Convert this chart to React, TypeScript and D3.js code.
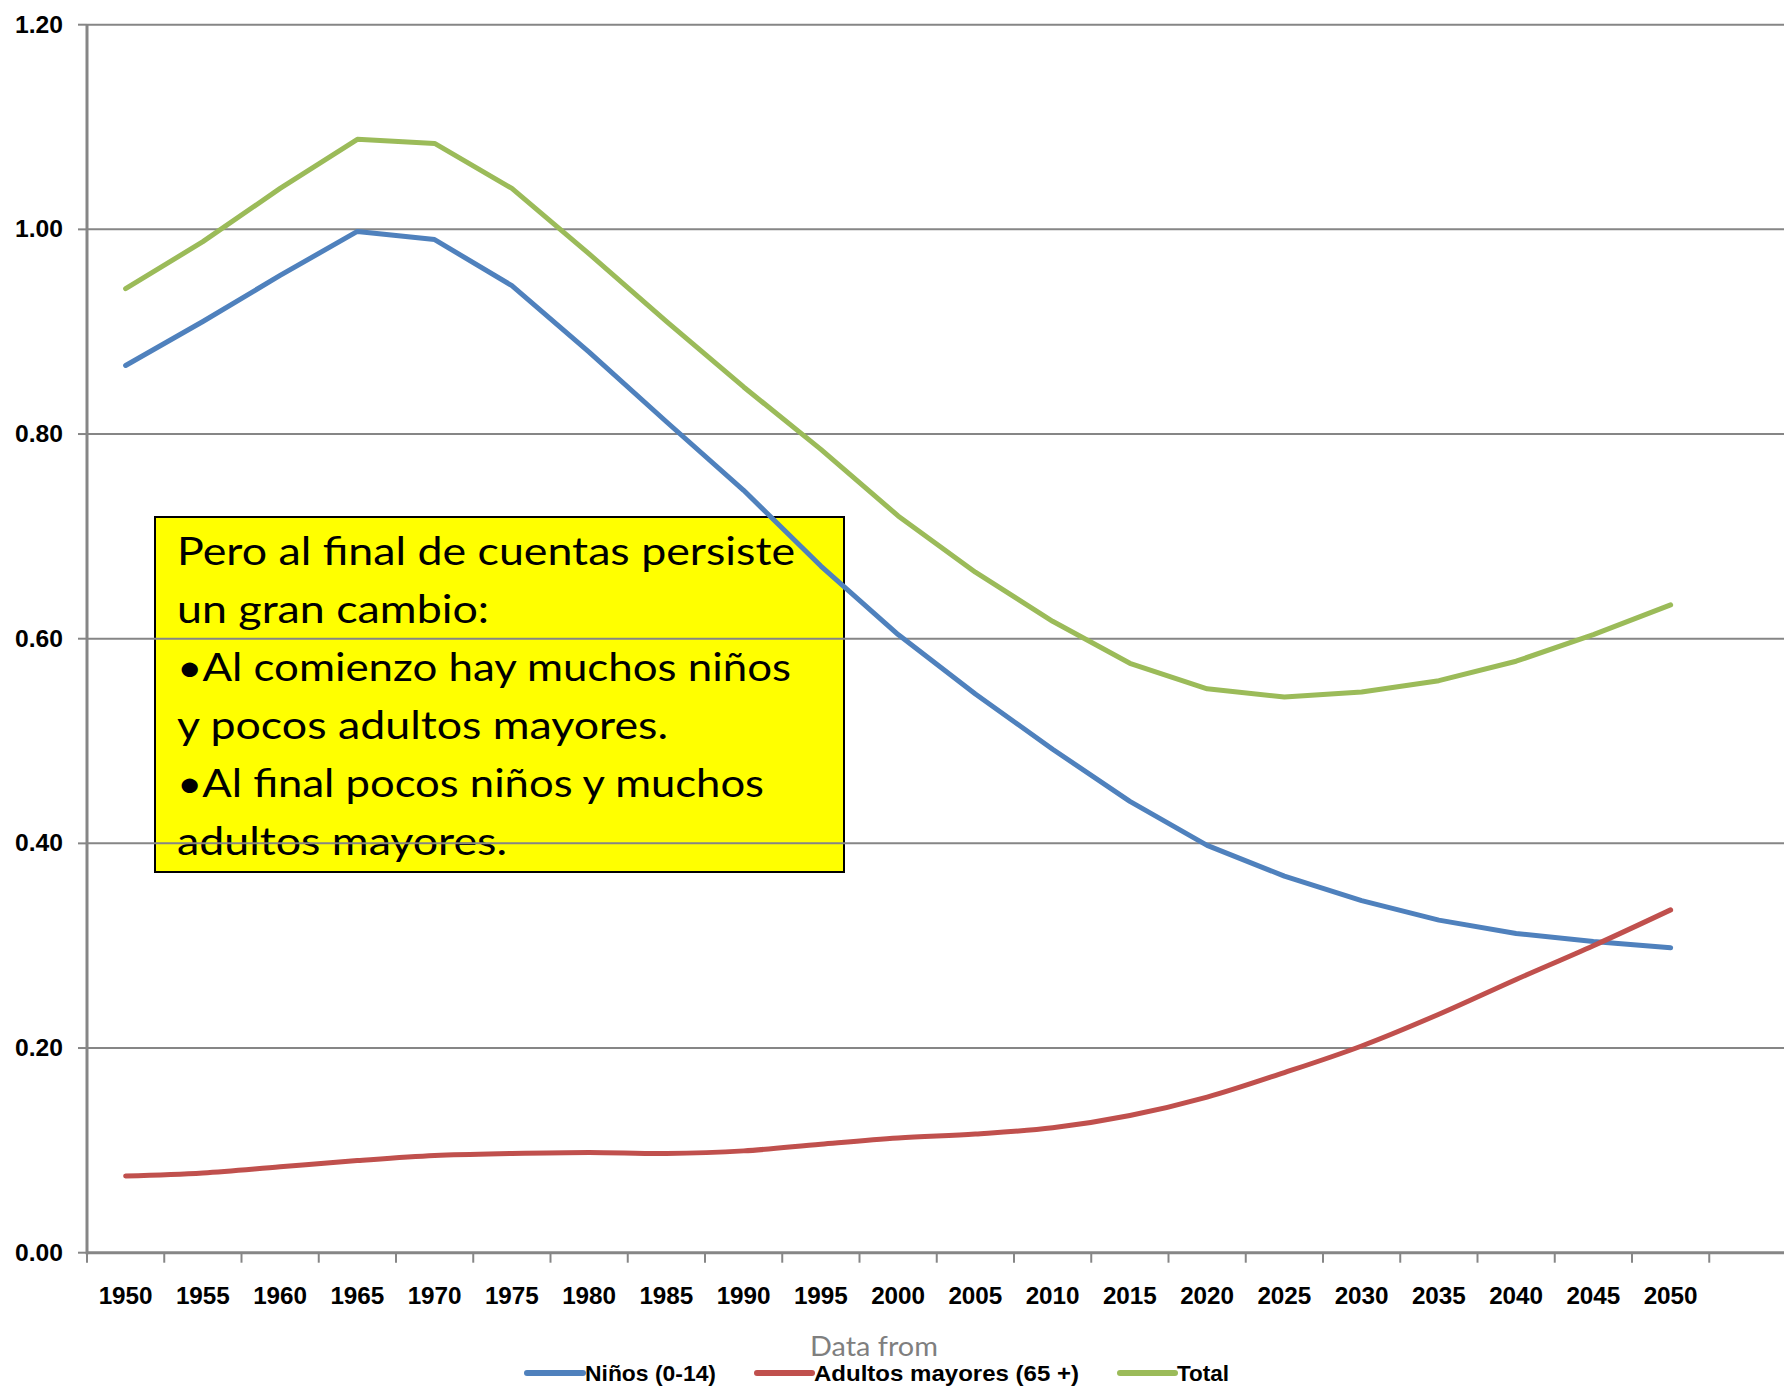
import React from "react";
import * as d3 from "d3";

const years = [1950, 1955, 1960, 1965, 1970, 1975, 1980, 1985, 1990, 1995, 2000, 2005, 2010, 2015, 2020, 2025, 2030, 2035, 2040, 2045, 2050];
const ninos = [0.867, 0.910, 0.955, 0.998, 0.990, 0.945, 0.880, 0.812, 0.745, 0.671, 0.604, 0.546, 0.492, 0.441, 0.398, 0.368, 0.344, 0.325, 0.312, 0.304, 0.298];
const adultos = [0.075, 0.078, 0.084, 0.090, 0.095, 0.097, 0.098, 0.097, 0.0995, 0.106, 0.112, 0.116, 0.122, 0.134, 0.152, 0.176, 0.202, 0.233, 0.267, 0.300, 0.335];
const total = [0.942, 0.988, 1.040, 1.088, 1.084, 1.040, 0.976, 0.910, 0.846, 0.785, 0.720, 0.665, 0.617, 0.576, 0.551, 0.543, 0.548, 0.559, 0.578, 0.604, 0.633];
const yTicks = [0, 0.2, 0.4, 0.6, 0.8, 1.0, 1.2];
const seriesNames = ["Niños (0-14)", "Adultos  mayores (65 +)", "Total"];
const noteLines = [
  "Pero al final de cuentas persiste",
  "un gran cambio:",
  "•Al comienzo hay muchos niños",
  "y pocos adultos mayores.",
  "•Al final pocos niños y muchos",
  "adultos mayores.",
];
const noteWidths = [618, 312, 614, 491, 587, 330];
const sourceText = "Data from";

const W = 1784;
const H = 1387;
const left = 87;
const step = 77.25;
const yTop = 24.7;
const yBottom = 1252.7;
const gridColor = "#868686";

const colors = ["#4F81BD", "#C0504D", "#9BBB59"];

export default function App() {
  const x = d3
    .scaleBand<number>()
    .domain(years)
    .range([left, left + step * years.length])
    .padding(0);
  const y = d3.scaleLinear().domain([0, 1.2]).range([yBottom, yTop]);
  const cx = (yr: number) => (x(yr) as number) + x.bandwidth() / 2;

  const straight = d3
    .line<number>()
    .x((_, i) => cx(years[i]))
    .y((v) => y(v));
  const smooth = d3
    .line<number>()
    .x((_, i) => cx(years[i]))
    .y((v) => y(v))
    .curve(d3.curveCatmullRom.alpha(0.5));

  const boundaries = years.map((yr) => x(yr) as number).concat([(x(years[years.length - 1]) as number) + x.bandwidth()]);

  const legendItems = [
    { x1: 527, x2: 583, tx: 585, tw: 131 },
    { x1: 757, x2: 812, tx: 814, tw: 265 },
    { x1: 1120, x2: 1175, tx: 1177, tw: 52 },
  ];

  return (
    <svg
      width={W}
      height={H}
      style={{ position: "absolute", left: 0, top: 0, background: "#fff" }}
    >
      <rect x={0} y={0} width={W} height={H} fill="#fff" />
      {/* annotation box (under gridlines and lines) */}
      <rect x={155} y={517} width={689} height={355} fill="#FFFF00" stroke="#000" strokeWidth={2} />
      {noteLines.map((t, i) => (
        <text
          key={i}
          x={177}
          y={565 + i * 58}
          fontFamily="Lato, 'Open Sans', sans-serif"
          fontSize={38}
          fill="#000"
          textLength={noteWidths[i]}
          lengthAdjust="spacingAndGlyphs"
        >
          {t}
        </text>
      ))}

      {/* gridlines */}
      {yTicks.filter((t) => t > 0).map((t) => (
        <line key={t} x1={left} x2={W} y1={y(t)} y2={y(t)} stroke={gridColor} strokeWidth={2} />
      ))}

      {/* y axis */}
      <line x1={left} x2={left} y1={yTop} y2={yBottom + 1.5} stroke={gridColor} strokeWidth={3} />
      {yTicks.map((t) => (
        <g key={t}>
          <line x1={78} x2={left} y1={y(t)} y2={y(t)} stroke={gridColor} strokeWidth={2} />
          <text
            x={63}
            y={y(t) + 8}
            textAnchor="end"
            fontFamily="'Liberation Sans', Arial, sans-serif"
            fontWeight="bold"
            fontSize={23}
            fill="#000"
            textLength={48}
            lengthAdjust="spacingAndGlyphs"
          >
            {t.toFixed(2)}
          </text>
        </g>
      ))}

      {/* x axis */}
      <line x1={left} x2={W} y1={yBottom} y2={yBottom} stroke={gridColor} strokeWidth={3} />
      {boundaries.map((b, i) => (
        <line key={i} x1={b} x2={b} y1={yBottom} y2={yBottom + 10} stroke={gridColor} strokeWidth={2} />
      ))}
      {years.map((yr) => (
        <text
          key={yr}
          x={cx(yr)}
          y={1304}
          textAnchor="middle"
          fontFamily="'Liberation Sans', Arial, sans-serif"
          fontWeight="bold"
          fontSize={23}
          fill="#000"
          textLength={54}
          lengthAdjust="spacingAndGlyphs"
        >
          {yr}
        </text>
      ))}

      {/* series */}
      <path d={straight(ninos) || ""} fill="none" stroke={colors[0]} strokeWidth={5} strokeLinejoin="round" strokeLinecap="round" />
      <path d={smooth(adultos) || ""} fill="none" stroke={colors[1]} strokeWidth={5} strokeLinejoin="round" strokeLinecap="round" />
      <path d={straight(total) || ""} fill="none" stroke={colors[2]} strokeWidth={5} strokeLinejoin="round" strokeLinecap="round" />

      {/* source */}
      <text
        x={874}
        y={1356}
        textAnchor="middle"
        fontFamily="Lato, 'Open Sans', sans-serif"
        fontSize={27}
        fill="#7F7F7F"
        textLength={128}
        lengthAdjust="spacingAndGlyphs"
      >
        {sourceText}
      </text>

      {/* legend */}
      {legendItems.map((it, i) => (
        <g key={i}>
          <line x1={it.x1} x2={it.x2} y1={1373} y2={1373} stroke={colors[i]} strokeWidth={6} strokeLinecap="round" />
          <text
            x={it.tx}
            y={1381}
            fontFamily="'Liberation Sans', Arial, sans-serif"
            fontWeight="bold"
            fontSize={22}
            fill="#000"
            textLength={it.tw}
            lengthAdjust="spacingAndGlyphs"
          >
            {seriesNames[i]}
          </text>
        </g>
      ))}
    </svg>
  );
}
